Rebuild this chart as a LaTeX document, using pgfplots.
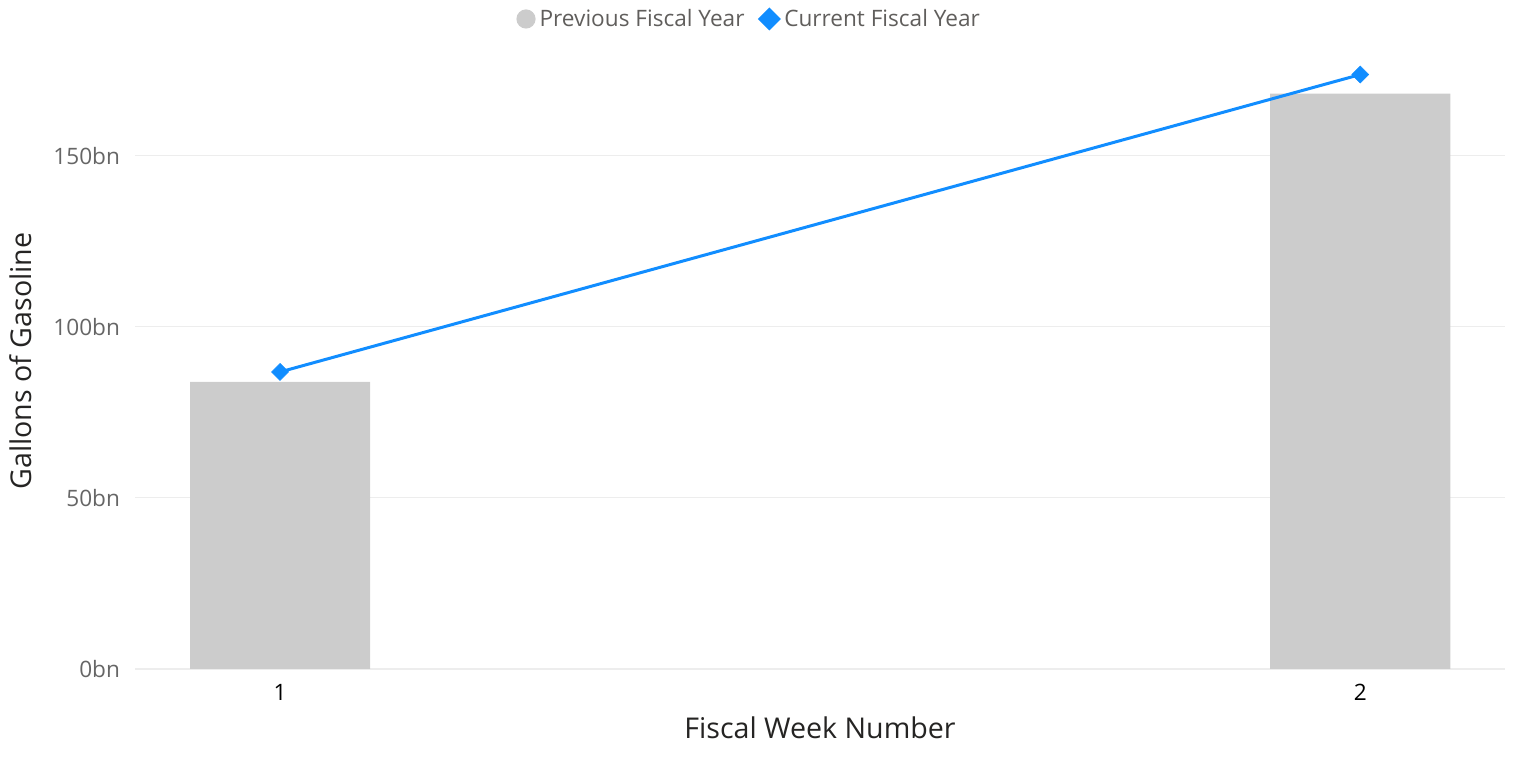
\documentclass[border=0pt]{standalone}
\usepackage{pgfplots}
\pgfplotsset{compat=1.18}
\usepackage{fontspec}
\setmainfont{Open Sans}
\usetikzlibrary{plotmarks,shapes.geometric}
\definecolor{bargray}{HTML}{CCCCCC}
\definecolor{pbblue}{HTML}{118DFF}
\definecolor{ticktxt}{HTML}{666666}
\definecolor{legtxt}{HTML}{605E5C}
\definecolor{gridc}{HTML}{EDEDED}
\definecolor{titletxt}{HTML}{252423}

\begin{document}
\begin{tikzpicture}
\path[use as bounding box] (0,0) rectangle (766pt,385pt);
\begin{axis}[
    at={(67.5pt,50.5pt)}, anchor=south west,
    width=685pt, height=308pt, scale only axis,
    xmin=0.8657, xmax=2.134,
    ymin=0, ymax=180,
    xtick={1,2}, xticklabels={1,2},
    ytick={0,50,100,150},
    yticklabels={0bn,50bn,100bn,150bn},
    axis line style={draw=none},
    major tick length=0pt,
    ymajorgrids=true,
    grid style={gridc, line width=0.6pt},
    tick label style={font=\fontsize{11.3}{13}\selectfont},
    yticklabel style={ticktxt, xshift=-4pt},
    xticklabel style={black, yshift=-4pt},
    xlabel={Fiscal Week Number},
    ylabel={Gallons of Gasoline},
    label style={font=\fontsize{14.3}{16}\selectfont, titletxt},
    xlabel style={yshift=-1.5pt},
    ylabel style={yshift=4pt},
    legend columns=2,
    legend style={draw=none, fill=none, at={(0.449,1.0)}, anchor=center,
        yshift=17pt, font=\fontsize{11.3}{13}\selectfont, text=legtxt,
        column sep=5pt, inner sep=0pt,
        /tikz/every odd column/.style={column sep=0pt}},
]
\addplot[ybar, bar width=0.1667, fill=bargray, draw=none,
    legend image code/.code={\fill[bargray] (0.3em,0) circle (4.8pt);}]
    coordinates {(1,83.9) (2,168.1)};
\addlegendentry{Previous Fiscal Year}
\addplot[pbblue, line width=1.5pt, mark=square*, mark size=3pt,
    mark options={fill=pbblue, draw=pbblue, line width=0.3pt, rotate=45},
    legend image code/.code={\node[draw=pbblue, fill=pbblue, diamond, aspect=1, inner sep=0pt, minimum size=10pt] at (0.3em,0) {};}]
    coordinates {(1,86.8) (2,173.7)};
\addlegendentry{Current Fiscal Year}
\end{axis}
\end{tikzpicture}
\end{document}
